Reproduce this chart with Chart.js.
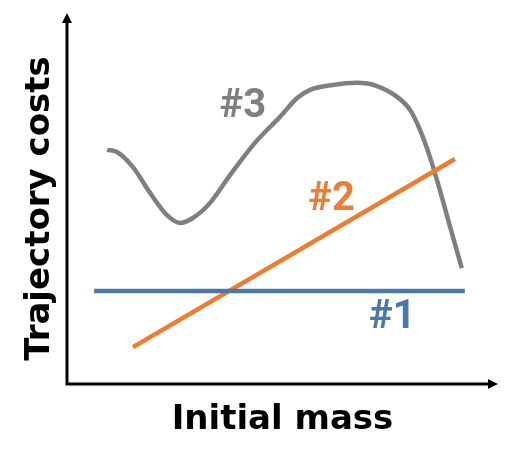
<!DOCTYPE html>
<html>
<head>
<meta charset="utf-8">
<script src="https://cdn.jsdelivr.net/npm/chart.js@4/dist/chart.umd.min.js"></script>
<style>
  html, body { margin: 0; padding: 0; background: #fff; }
  #wrap { width: 520px; height: 452px; }
</style>
</head>
<body>
<div id="wrap"><canvas id="lineChart" width="520" height="452"></canvas></div>
<script>
const CHART = document.getElementById('lineChart');

// sketch data (arbitrary units, 0..100 on both axes)
var flatX = [6.3, 92.3];
var flatY = [26.5, 26.5];

var risingX = [15.3, 90.0];
var risingY = [10.5, 64.1];

var curveX = [9.3, 11.6, 15.3, 19.3, 23.2, 26.2, 29.2, 33.2, 38.0, 43.6, 49.4,
              53.4, 56.4, 61.7, 67.3, 71.9, 76.6, 79.6, 81.9, 84.2, 86.5, 88.9, 91.6];
var curveY = [66.7, 66.1, 61.8, 54.4, 48.1, 45.9, 47.3, 51.6, 59.8, 68.7, 76.1,
              81.5, 83.8, 85.2, 85.8, 84.9, 81.8, 78.1, 72.4, 64.7, 55.3, 44.7, 33.0];

var seriesNames = ["#1", "#2", "#3"];
var seriesColors = ["#4a78a8", "#ed7d31", "#7f7f7f"];
var labelX = [75.5, 61.4, 40.8];
var labelY = [20.2, 53.8, 80.2];

function toPoints(xs, ys) {
  return xs.map(function (x, i) { return {x: x, y: ys[i]}; });
}

// axes with arrow heads, y axis runs a bit above the plot area
const arrowAxes = {
  id: 'arrowAxes',
  afterDraw: function (chart) {
    const ctx = chart.ctx;
    const a = chart.chartArea;
    const head = 10, half = 5, extra = 20;
    ctx.save();
    ctx.strokeStyle = '#000';
    ctx.fillStyle = '#000';
    ctx.lineWidth = 3;
    ctx.beginPath();
    ctx.moveTo(a.left, a.bottom);
    ctx.lineTo(a.right - head, a.bottom);
    ctx.moveTo(a.left, a.bottom + 1.5);
    ctx.lineTo(a.left, a.top - extra + head);
    ctx.stroke();
    ctx.beginPath();
    ctx.moveTo(a.right, a.bottom);
    ctx.lineTo(a.right - head, a.bottom - half);
    ctx.lineTo(a.right - head, a.bottom + half);
    ctx.closePath();
    ctx.fill();
    ctx.beginPath();
    ctx.moveTo(a.left, a.top - extra);
    ctx.lineTo(a.left - half, a.top - extra + head);
    ctx.lineTo(a.left + half, a.top - extra + head);
    ctx.closePath();
    ctx.fill();
    ctx.restore();
  }
};

// "#n" labels next to each line
const seriesLabels = {
  id: 'seriesLabels',
  afterDatasetsDraw: function (chart) {
    const ctx = chart.ctx;
    const xs = chart.scales.x, ys = chart.scales.y;
    ctx.save();
    ctx.font = 'bold 40px Roboto';
    ctx.textAlign = 'center';
    ctx.textBaseline = 'alphabetic';
    seriesNames.forEach(function (name, i) {
      ctx.fillStyle = seriesColors[i];
      ctx.fillText(name, xs.getPixelForValue(labelX[i]), ys.getPixelForValue(labelY[i]) + 14.5);
    });
    ctx.restore();
  }
};

const titleFont = {family: 'DejaVu Sans', weight: 'bold', size: 34};

var lineChart = new Chart(CHART, {
  type: 'line',
  data: {
    datasets: [
      {
        label: seriesNames[0],
        data: toPoints(flatX, flatY),
        borderColor: seriesColors[0],
        borderWidth: 4.5,
        borderCapStyle: 'butt',
        pointRadius: 0,
        fill: false
      },
      {
        label: seriesNames[1],
        data: toPoints(risingX, risingY),
        borderColor: seriesColors[1],
        borderWidth: 4.5,
        borderCapStyle: 'butt',
        pointRadius: 0,
        fill: false
      },
      {
        label: seriesNames[2],
        data: toPoints(curveX, curveY),
        borderColor: seriesColors[2],
        borderWidth: 4.5,
        borderCapStyle: 'butt',
        cubicInterpolationMode: 'monotone',
        pointRadius: 0,
        fill: false
      }
    ]
  },
  options: {
    responsive: false,
    animation: false,
    events: [],
    layout: {padding: {left: 20, right: 22, top: 33, bottom: 11.6}},
    plugins: {legend: {display: false}, tooltip: {enabled: false}},
    scales: {
      x: {
        type: 'linear',
        min: 0,
        max: 100,
        grid: {display: false, drawTicks: false},
        border: {display: false},
        ticks: {display: false},
        title: {display: true, text: 'Initial mass', color: '#000', font: titleFont,
                padding: {top: 15.6, bottom: 0}}
      },
      y: {
        type: 'linear',
        min: 0,
        max: 100,
        grid: {display: false, drawTicks: false},
        border: {display: false},
        ticks: {display: false},
        title: {display: true, text: 'Trajectory costs', color: '#000', font: titleFont,
                padding: {top: 0, bottom: 6.2}}
      }
    }
  },
  plugins: [arrowAxes, seriesLabels]
});
</script>
</body>
</html>
